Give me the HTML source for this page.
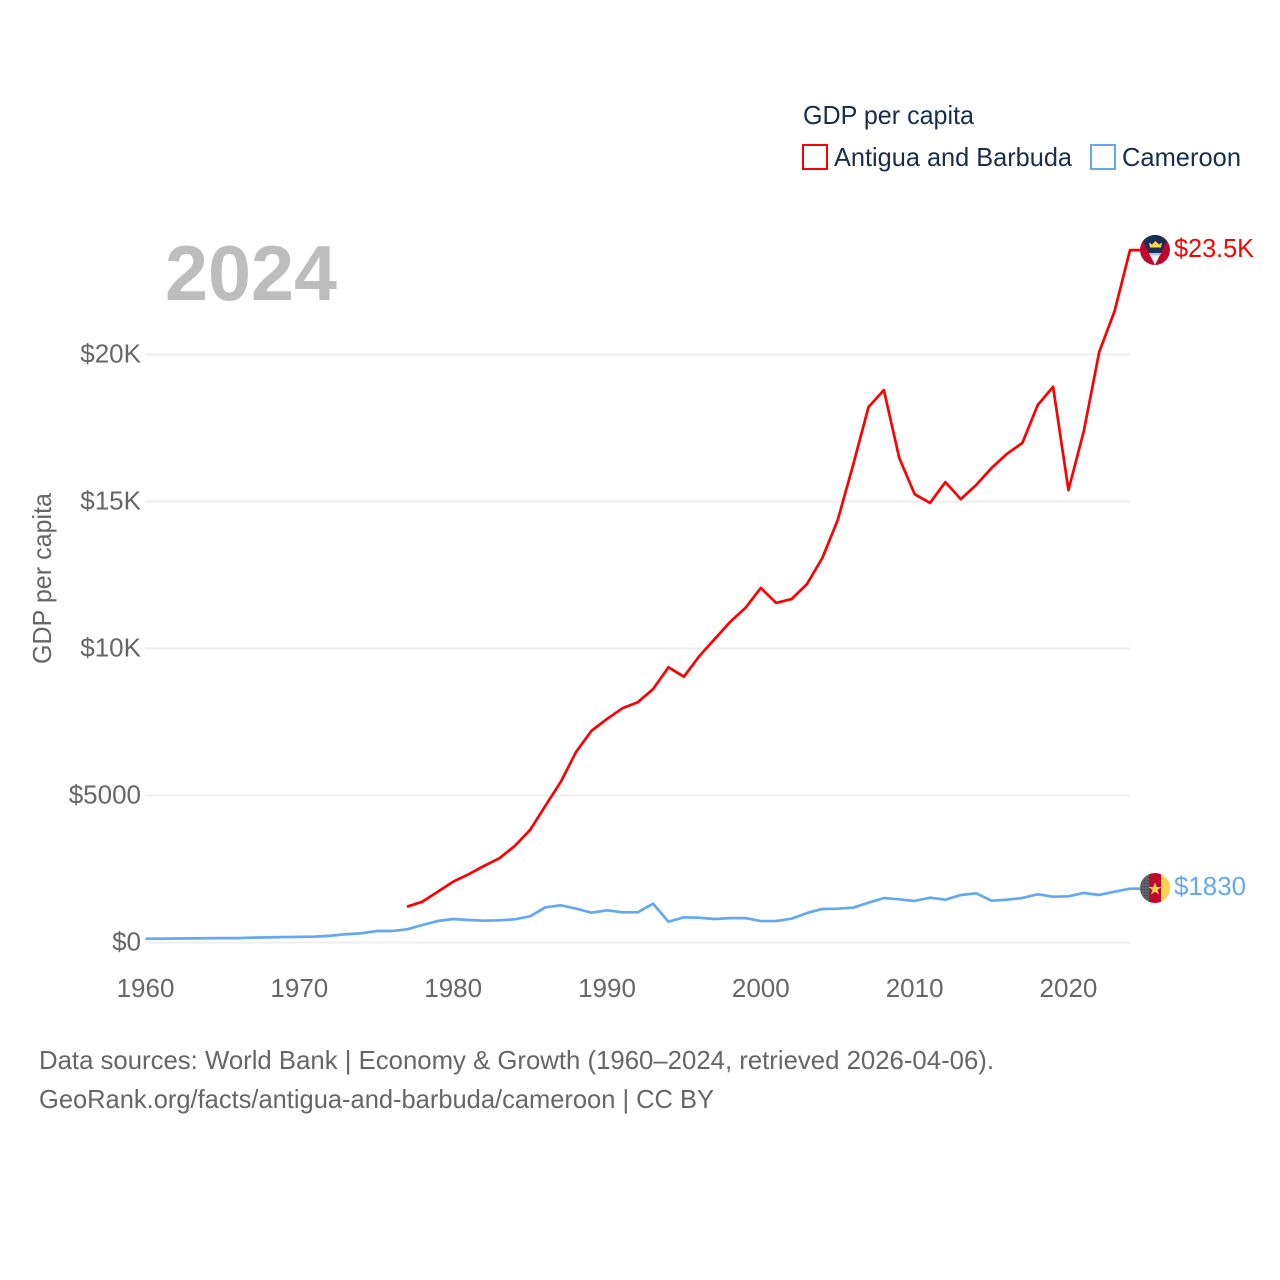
<!DOCTYPE html>
<html lang="en">
<head>
<meta charset="utf-8">
<title>GDP per capita: Antigua and Barbuda vs Cameroon</title>
<style>
html,body{margin:0;padding:0;background:#fff;width:1280px;height:1280px;overflow:hidden}
svg{display:block;font-family:"Liberation Sans",sans-serif}
</style>
</head>
<body>
<svg id="chart" xmlns="http://www.w3.org/2000/svg" width="1280" height="1280" viewBox="0 0 1280 1280">
  <rect width="1280" height="1280" fill="#fff"/>
  <g id="grid"></g>
  <g id="ytick-labels"></g>
  <g id="xtick-labels"></g>
  <text x="165" y="300" font-size="78" font-weight="700" fill="#bdbdbd" textLength="172" lengthAdjust="spacingAndGlyphs">2024</text>
  <text transform="translate(51,578.5) rotate(-90)" text-anchor="middle" font-size="26" fill="#666" textLength="171" lengthAdjust="spacingAndGlyphs">GDP per capita</text>
  <g id="series"></g>

  <g>
    <text x="803" y="124" font-size="26" fill="#172e4f" textLength="171" lengthAdjust="spacingAndGlyphs">GDP per capita</text>
    <g>
      <rect x="803" y="145" width="24" height="24" fill="none" stroke="#ff0000" stroke-width="2"/>
      <text x="834" y="166" font-size="26" fill="#172e4f" textLength="238" lengthAdjust="spacingAndGlyphs">Antigua and Barbuda</text>
    </g>
    <g>
      <rect x="1091" y="145" width="24" height="24" fill="none" stroke="#63a9f0" stroke-width="2"/>
      <text x="1122" y="166" font-size="26" fill="#172e4f" textLength="119" lengthAdjust="spacingAndGlyphs">Cameroon</text>
    </g>
  </g>

  <defs>
    <clipPath id="flag-clip-a"><circle cx="1155" cy="250" r="15"/></clipPath>
    <clipPath id="flag-clip-c"><circle cx="1155" cy="888" r="15"/></clipPath>
    <pattern id="flag-dots" width="3" height="3" patternUnits="userSpaceOnUse">
      <rect width="3" height="3" fill="#60656b"/>
      <circle cx="1.5" cy="1.5" r="0.7" fill="#3f4247"/>
    </pattern>
  </defs>
  <g id="flag-antigua" clip-path="url(#flag-clip-a)">
    <rect x="1140" y="235" width="30" height="30" fill="#c0082b"/>
    <polygon points="1140,235 1170,235 1155,265" fill="#1a2f57"/>
    <polygon points="1149,253 1161,253 1155,265" fill="#f4f4f4"/>
    <polygon points="1149,253 1161,253 1160,255.5 1150,255.5" fill="#a9cbe8"/>
    <polygon points="1150,247.5 1161,247.5 1162,242.5 1159,244.5 1155.5,241 1152,244.5 1149,242.5" fill="#ffd34d"/>
  </g>
  <g id="flag-cameroon" clip-path="url(#flag-clip-c)">
    <rect x="1140" y="873" width="9" height="30" fill="url(#flag-dots)"/>
    <rect x="1149" y="873" width="12" height="30" fill="#c0082b"/>
    <rect x="1161" y="873" width="9" height="30" fill="#ffd24d"/>
    <polygon points="1155,882.5 1156.7,887 1161.5,887 1157.6,889.9 1159,894.5 1155,891.8 1151,894.5 1152.4,889.9 1148.5,887 1153.3,887" fill="#ffd24d"/>
  </g>
  <text id="label-antigua" x="1174" y="257" font-size="26" fill="#ff0000" textLength="80" lengthAdjust="spacingAndGlyphs">$23.5K</text>
  <text id="label-cameroon" x="1174" y="895" font-size="26" fill="#63a9f0" textLength="72" lengthAdjust="spacingAndGlyphs">$1830</text>

  <text x="39" y="1069" font-size="26" fill="#666" textLength="955" lengthAdjust="spacingAndGlyphs">Data sources: World Bank | Economy &amp; Growth (1960–2024, retrieved 2026-04-06).</text>
  <text x="39" y="1108" font-size="26" fill="#666" textLength="675" lengthAdjust="spacingAndGlyphs">GeoRank.org/facts/antigua-and-barbuda/cameroon | CC BY</text>
</svg>
<script>
const antiguaStartYear = 1977;
const antiguaValues = [1218,1388,1728,2068,2320,2602,2864,3282,3827,4653,5469,6490,7204,7602,7966,8170,8622,9360,9041,9740,10320,10900,11380,12060,11550,11680,12190,13080,14370,16240,18210,18790,16480,15250,14950,15660,15080,15560,16140,16620,16990,18280,18900,15390,17400,20090,21480,23550];
const cameroonStartYear = 1960;
const cameroonValues = [130,130,135,140,145,150,150,165,175,185,190,200,230,280,310,390,390,449,595,731,799,765,741,755,789,891,1197,1265,1150,1014,1095,1027,1027,1320,707,857,843,800,830,830,730,730,810,1000,1140,1150,1184,1354,1514,1469,1412,1524,1456,1616,1673,1422,1456,1514,1639,1558,1571,1684,1616,1728,1830];
const yTickValues = [0,5000,10000,15000,20000];
const yTickLabels = ["$0","$5000","$10K","$15K","$20K"];
const xTickYears = [1960,1970,1980,1990,2000,2010,2020];

const NS = "http://www.w3.org/2000/svg";
function xScale(year){ return 145.5 + (year - 1960) * (1130 - 145.5) / 64; }
function yScale(value){ return 942.5 - value * (942.5 - 354.5) / 20000; }

const grid = document.getElementById("grid");
const yLabels = document.getElementById("ytick-labels");
const xLabels = document.getElementById("xtick-labels");
const seriesGroup = document.getElementById("series");

yTickValues.forEach(function(v, i){
  const line = document.createElementNS(NS, "line");
  
  
  line.setAttribute("x1", 145);
  line.setAttribute("x2", 1130);
  line.setAttribute("y1", yScale(v));
  line.setAttribute("y2", yScale(v));
  line.setAttribute("stroke", "#eeeeee");
  line.setAttribute("stroke-width", 2);
  grid.appendChild(line);

  const t = document.createElementNS(NS, "text");
  
  
  t.setAttribute("x", 141);
  t.setAttribute("y", yScale(v) + 8);
  t.setAttribute("text-anchor", "end");
  t.setAttribute("font-size", 26);
  t.setAttribute("fill", "#666");
  t.textContent = yTickLabels[i];
  yLabels.appendChild(t);
});

xTickYears.forEach(function(year){
  const t = document.createElementNS(NS, "text");
  
  
  t.setAttribute("x", xScale(year));
  t.setAttribute("y", 997);
  t.setAttribute("text-anchor", "middle");
  t.setAttribute("font-size", 26);
  t.setAttribute("fill", "#666");
  t.textContent = String(year);
  xLabels.appendChild(t);
});

function linePoints(startYear, values){
  const pts = values.map(function(v, i){
    return xScale(startYear + i).toFixed(2) + "," + yScale(v).toFixed(2);
  });
  pts.push("1140," + yScale(values[values.length - 1]).toFixed(2));
  return pts.join(" ");
}

const cameroonLine = document.createElementNS(NS, "polyline");


cameroonLine.setAttribute("points", linePoints(cameroonStartYear, cameroonValues));
cameroonLine.setAttribute("fill", "none");
cameroonLine.setAttribute("stroke", "#63a9f0");
cameroonLine.setAttribute("stroke-width", 2.7);
cameroonLine.setAttribute("stroke-linejoin", "round");
seriesGroup.appendChild(cameroonLine);

const antiguaLine = document.createElementNS(NS, "polyline");


antiguaLine.setAttribute("points", linePoints(antiguaStartYear, antiguaValues));
antiguaLine.setAttribute("fill", "none");
antiguaLine.setAttribute("stroke", "#ff0000");
antiguaLine.setAttribute("stroke-width", 2.7);
antiguaLine.setAttribute("stroke-linejoin", "round");
seriesGroup.appendChild(antiguaLine);
</script>
</body>
</html>
